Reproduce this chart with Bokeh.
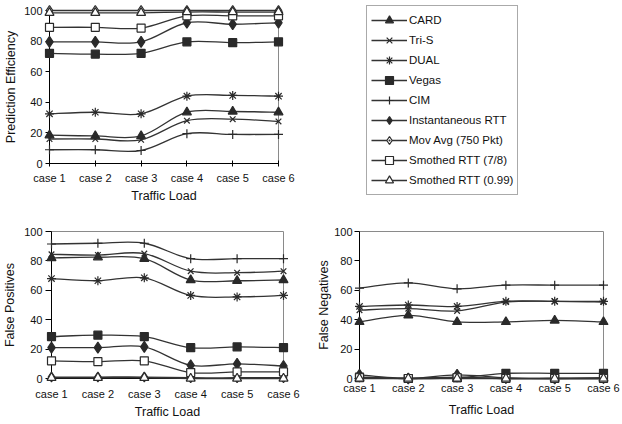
from bokeh.plotting import figure
from bokeh.models import Range1d, FixedTicker, Legend, LegendItem, ColumnDataSource
from bokeh.layouts import column, row
from bokeh.embed import file_html
from bokeh.resources import INLINE

cases = ["case 1", "case 2", "case 3", "case 4", "case 5", "case 6"]
series_names = ["CARD", "Tri-S", "DUAL", "Vegas", "CIM", "Instantaneous RTT",
                "Mov Avg (750 Pkt)", "Smothed RTT (7/8)", "Smothed RTT (0.99)"]
y_ticks = [0, 20, 40, 60, 80, 100]

# Prediction Efficiency
pe_card = [18.5, 18, 18, 33.5, 34, 33.5]
pe_tris = [16, 16, 15.5, 28, 29, 27.5]
pe_dual = [32.5, 33.5, 32.5, 44, 44.5, 44]
pe_vegas = [72, 71.5, 72, 79.5, 79, 79.5]
pe_cim = [9, 9, 8.5, 19.5, 19, 19]
pe_inst = [79.5, 79.5, 79.5, 92, 91, 92]
pe_movavg = [100, 100, 100, 100, 100, 100]
pe_srtt78 = [89, 89, 88.5, 96.5, 96.5, 96.5]
pe_srtt99 = [98.5, 98.5, 98.5, 99, 99, 99]

# False Positives
fp_card = [82, 82.5, 81.5, 67, 66.5, 67]
fp_tris = [84.5, 84, 85, 73, 72, 73]
fp_dual = [68, 66.5, 68.5, 56.5, 55.5, 56.5]
fp_vegas = [28.5, 29.5, 28.5, 21, 21.5, 21]
fp_cim = [91.5, 92, 92, 81.5, 81.5, 81.5]
fp_inst = [21, 21, 21.5, 9, 10, 8.5]
fp_movavg = [1, 1, 1, 0.5, 0.5, 0.5]
fp_srtt78 = [12, 11.5, 12, 4, 4.5, 4.5]
fp_srtt99 = [0.5, 0.5, 0.5, 0, 0, 0]

# False Negatives
fn_card = [38.5, 43, 38.5, 38.5, 39.5, 38.5]
fn_tris = [46.5, 47.5, 46, 52, 52.5, 52]
fn_dual = [49, 50, 49, 52.5, 52.5, 52.5]
fn_vegas = [1, 0, 0.5, 3.5, 3.5, 3.5]
fn_cim = [61.5, 65, 61, 63.5, 63.5, 63.5]
fn_inst = [2.5, 0, 2.5, 0.5, 0, 0.5]
fn_movavg = [1, 0, 1, 0, 0, 0]
fn_srtt78 = [0.5, 0, 0.5, 0, 0, 0]
fn_srtt99 = [0, 0, 0, 0, 0, 0]

FONT = "Liberation Sans"
LINE = "#333333"
DARK = "#2a2a2a"

# marker styles per series (styling only)
styles = [
    dict(marker="triangle", size=9, fill_color=DARK, line_color=DARK),
    dict(marker="x", size=8, fill_color=None, line_color=DARK),
    dict(marker="asterisk", size=9, fill_color=None, line_color=DARK),
    dict(marker="square", size=8, fill_color=DARK, line_color=DARK),
    dict(marker="cross", size=9, fill_color=None, line_color=DARK),
    dict(marker="diamond", size=11, fill_color=DARK, line_color=DARK),
    dict(marker="diamond_dot", size=10, fill_color="white", line_color=DARK),
    dict(marker="square", size=8, fill_color="white", line_color=DARK),
    dict(marker="triangle", size=9, fill_color="white", line_color=DARK),
]

xs = [i + 1 for i in range(len(cases))]


def smooth_segments(x, y):
    n = len(x)
    d = dict(x0=[], y0=[], x1=[], y1=[], cx0=[], cy0=[], cx1=[], cy1=[])
    for i in range(n - 1):
        a = max(i - 1, 0)
        b = min(i + 2, n - 1)
        d["x0"].append(x[i]); d["y0"].append(y[i])
        d["x1"].append(x[i + 1]); d["y1"].append(y[i + 1])
        d["cx0"].append(x[i] + (x[i + 1] - x[a]) / 6.0)
        d["cy0"].append(y[i] + (y[i + 1] - y[a]) / 6.0)
        d["cx1"].append(x[i + 1] - (x[b] - x[i]) / 6.0)
        d["cy1"].append(y[i + 1] - (y[b] - y[i]) / 6.0)
    return d


def make_fig(width, height, left, right, top, bottom, ylabel,
             ytick_out, ylab_standoff, ylabel_standoff,
             xtick_in, xtick_out, xlab_standoff, xlabel_standoff, series,
             fixed_frame=False):
    extra = {}
    if fixed_frame:
        extra = dict(frame_width=width - left - right, frame_height=height - top - bottom)
    p = figure(width=width, height=height, output_backend="svg", toolbar_location=None,
               x_range=Range1d(1, 6), y_range=Range1d(0, 100),
               min_border_left=left, min_border_right=right,
               min_border_top=top, min_border_bottom=bottom, **extra)
    p.xgrid.visible = False
    p.ygrid.visible = False
    p.outline_line_color = "#8a8a8a"
    p.outline_line_width = 1
    p.background_fill_color = "white"
    p.border_fill_color = "white"

    p.xaxis.ticker = FixedTicker(ticks=xs)
    p.xaxis.major_label_overrides = {x: c for x, c in zip(xs, cases)}
    p.yaxis.ticker = FixedTicker(ticks=y_ticks)
    p.xaxis.axis_label = "Traffic Load"
    p.yaxis.axis_label = ylabel
    for ax in (p.xaxis[0], p.yaxis[0]):
        ax.axis_line_color = "black"
        ax.major_tick_line_color = "black"
        ax.minor_tick_line_color = None
        ax.major_label_text_font = FONT
        ax.major_label_text_font_size = "11px"
        ax.major_label_text_color = "#111111"
        ax.axis_label_text_font = FONT
        ax.axis_label_text_font_size = "12.5px"
        ax.axis_label_text_font_style = "normal"
        ax.axis_label_text_color = "#111111"
    p.yaxis.major_tick_in = 0
    p.yaxis.major_tick_out = ytick_out
    p.yaxis.major_label_standoff = ylab_standoff
    p.yaxis.axis_label_standoff = ylabel_standoff
    p.xaxis.major_tick_in = xtick_in
    p.xaxis.major_tick_out = xtick_out
    p.xaxis.major_label_standoff = xlab_standoff
    p.xaxis.axis_label_standoff = xlabel_standoff

    items = []
    for name, vals, st in zip(series_names, series, styles):
        src = ColumnDataSource(smooth_segments(xs, vals))
        br = p.bezier(x0="x0", y0="y0", x1="x1", y1="y1", cx0="cx0", cy0="cy0",
                      cx1="cx1", cy1="cy1", source=src, line_color=LINE, line_width=1.3,
                      level="overlay")
        mr = p.scatter(x=xs, y=vals, marker=st["marker"], size=st["size"],
                       fill_color=st["fill_color"], line_color=st["line_color"],
                       line_width=1.2, level="overlay")
        items.append(LegendItem(label=name, renderers=[br, mr]))
    return p, items


p1, items1 = make_fig(622, 210, 49, 344, 10, 47, "Prediction Efficiency",
                      4, 3, 3, 3, 3, 5, 2,
                      [pe_card, pe_tris, pe_dual, pe_vegas, pe_cim, pe_inst,
                       pe_movavg, pe_srtt78, pe_srtt99], fixed_frame=True)
legend = Legend(items=items1, location=(88, -32), orientation="vertical",
                label_text_font=FONT, label_text_font_size="11.5px",
                label_text_color="#111111",
                glyph_width=36, glyph_height=20, label_height=20, label_standoff=2,
                spacing=0, padding=4, margin=0,
                border_line_color="#555555", border_line_width=1,
                background_fill_color="white", background_fill_alpha=1)
p1.add_layout(legend, "right")

p2, _ = make_fig(310, 214, 48, 27, 20, 46, "False Positives",
                 6, 3, 4, 3, 3, 6, 2,
                 [fp_card, fp_tris, fp_dual, fp_vegas, fp_cim, fp_inst,
                  fp_movavg, fp_srtt78, fp_srtt99])

p3, _ = make_fig(312, 214, 49, 19, 21, 45, "False Negatives",
                 5, 2, 0, 4, 0, 3, 6,
                 [fn_card, fn_tris, fn_dual, fn_vegas, fn_cim, fn_inst,
                  fn_movavg, fn_srtt78, fn_srtt99])

layout = column(p1, row(p2, p3, spacing=0), spacing=0)

open("out.html", "w").write(file_html(layout, INLINE))
